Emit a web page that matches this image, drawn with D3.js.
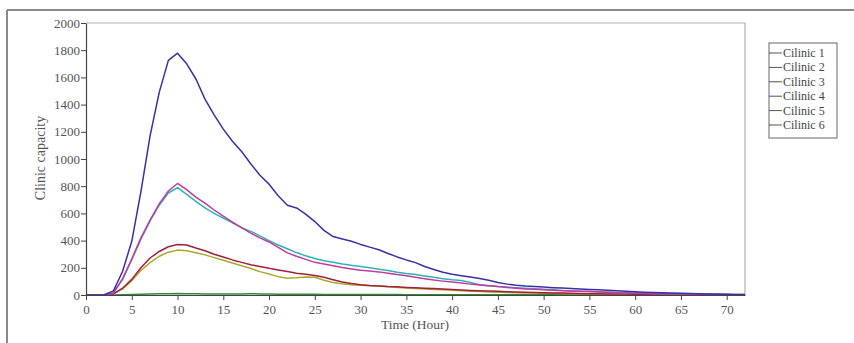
<!DOCTYPE html>
<html>
<head>
<meta charset="utf-8">
<script src="https://cdn.jsdelivr.net/npm/d3@7"></script>
<style>
  body { margin: 0; background: #fff; }
  svg { display: block; }
</style>
</head>
<body>
<div id="chart"></div>
<script>
// hours 0..72
const hours = d3.range(0, 73);

const seriesNames = ["Cilinic 1", "Cilinic 2", "Cilinic 3", "Cilinic 4", "Cilinic 5", "Cilinic 6"];
const seriesColors = ["#3a2fa6", "#c23a9e", "#2fb2b6", "#a3203a", "#aaa82a", "#2e8b34"];

const cilinic1 = [0,0,2,30,175,395,760,1170,1490,1725,1778,1700,1590,1440,1325,1220,1130,1055,965,880,
  815,730,660,640,595,540,475,430,412,395,372,352,333,305,280,258,238,210,188,167,
  152,142,132,122,108,92,80,72,66,62,58,54,51,48,44,41,38,35,31,27,
  24,21,19,17,15,13,11,9,8,7,5,4,3];
const cilinic2 = [0,0,0,15,120,265,420,550,670,765,820,775,720,675,625,580,535,495,455,420,
  390,350,310,285,262,240,228,215,202,192,182,176,170,160,150,142,130,120,110,102,
  95,88,80,74,68,62,56,50,45,42,38,35,32,30,28,26,23,20,17,15,
  13,11,10,9,8,7,6,5,4,4,3,2,2];
const cilinic3 = [0,0,0,15,115,260,410,545,660,750,790,740,688,640,600,565,530,495,468,435,
  400,368,340,312,288,268,252,240,228,218,210,200,190,180,168,158,150,140,130,120,
  112,106,92,76,68,62,58,54,50,46,42,38,34,30,27,25,22,20,18,16,
  14,12,11,10,9,8,7,6,5,4,4,3,3];
const cilinic4 = [0,0,0,8,50,115,200,272,320,355,372,368,345,325,300,280,258,240,222,210,
  196,184,172,160,152,143,130,112,95,84,76,70,66,62,60,56,53,50,47,44,
  40,37,34,31,29,27,24,22,20,18,17,15,14,12,11,10,9,8,8,7,
  6,6,5,5,4,4,3,3,3,2,2,2,1];
const cilinic5 = [0,0,0,8,45,105,180,238,285,315,330,326,310,295,275,255,235,215,195,172,
  155,135,124,126,132,130,108,92,82,76,72,68,66,60,56,52,48,45,40,38,
  35,32,28,25,22,20,18,16,15,14,13,12,11,10,9,8,8,7,6,6,
  5,5,4,4,3,3,3,2,2,2,2,1,1];
const cilinic6 = [0,0,0,0,1,3,5,7,9,10,11,10,9,8,8,7,7,8,9,8,
  7,6,6,5,5,5,4,4,4,4,3,3,3,3,3,2,2,2,2,2,
  2,2,2,1,1,1,1,1,1,1,1,1,1,1,1,1,0,0,0,0,
  0,0,0,0,0,0,0,0,0,0,0,0,0];

const xTicks = d3.range(0, 71, 5);
const yTicks = d3.range(0, 2001, 200);

const allSeries = [cilinic1, cilinic2, cilinic3, cilinic4, cilinic5, cilinic6];

const W = 854, H = 343;
const plot = { left: 86, right: 745, top: 23, bottom: 295 };

const svg = d3.select("#chart").append("svg")
  .attr("width", W)
  .attr("height", H);

// outer frame (top and left edges visible)
svg.append("line").attr("x1", 7).attr("y1", 10).attr("x2", W).attr("y2", 10)
  .attr("stroke", "#8a8a8a").attr("stroke-width", 2);
svg.append("line").attr("x1", 7).attr("y1", 10).attr("x2", 7).attr("y2", H)
  .attr("stroke", "#8a8a8a").attr("stroke-width", 2);

const x = d3.scaleLinear().domain([0, 72]).range([plot.left, plot.right]);
const y = d3.scaleLinear().domain([0, 2000]).range([plot.bottom, plot.top]);

// plot frame top + right
svg.append("path")
  .attr("d", `M${plot.left},${plot.top}H${plot.right}V${plot.bottom}`)
  .attr("fill", "none")
  .attr("stroke", "#b0b0b0")
  .attr("stroke-width", 1.2);

// lines
const line = d3.line()
  .x((d, i) => x(hours[i]))
  .y(d => y(d));

const lines = svg.append("g").attr("class", "lines");
// draw from smallest to largest so the order resembles the reference
[5, 4, 3, 2, 1, 0].forEach(k => {
  lines.append("path")
    .datum(allSeries[k])
    .attr("d", line)
    .attr("fill", "none")
    .attr("stroke", seriesColors[k])
    .attr("stroke-width", 1.5)
    .attr("stroke-linejoin", "round");
});

// axes
const xAxis = svg.append("g")
  .attr("transform", "translate(0," + plot.bottom + ")")
  .call(d3.axisBottom(x).tickValues(xTicks).tickFormat(d3.format("d")).tickSize(5).tickSizeOuter(0));
const yAxis = svg.append("g")
  .attr("transform", "translate(" + plot.left + ",0)")
  .call(d3.axisLeft(y).tickValues(yTicks).tickFormat(d3.format("d")).tickSize(5).tickSizeOuter(0));

[xAxis, yAxis].forEach(a => {
  a.select(".domain").attr("stroke", "#444").attr("stroke-width", 1.2);
  a.selectAll(".tick line").attr("stroke", "#444");
  a.selectAll("text")
    .style("font-family", "'Liberation Serif', serif")
    .style("font-size", "13px")
    .attr("fill", "#555");
});
xAxis.selectAll("text").attr("dy", "0.85em");
yAxis.selectAll("text").attr("x", -6);

// axis titles
svg.append("text")
  .attr("x", 415)
  .attr("y", 329)
  .attr("text-anchor", "middle")
  .style("font-family", "'Liberation Serif', serif")
  .style("font-size", "13.5px")
  .attr("fill", "#555")
  .text("Time (Hour)");

svg.append("text")
  .attr("transform", "translate(45,158) rotate(-90)")
  .attr("text-anchor", "middle")
  .style("font-family", "'Liberation Serif', serif")
  .style("font-size", "14px")
  .attr("fill", "#555")
  .text("Clinic capacity");

// legend
const legend = svg.append("g").attr("transform", "translate(769,43)");
legend.append("rect")
  .attr("width", 68).attr("height", 95)
  .attr("fill", "#fff")
  .attr("stroke", "#666").attr("stroke-width", 1);
seriesNames.forEach((name, i) => {
  const row = legend.append("g").attr("transform", "translate(0," + (10 + i * 14.4) + ")");
  row.append("line").attr("x1", 0).attr("x2", 13).attr("y1", 0).attr("y2", 0)
    .attr("stroke", "#555").attr("stroke-width", 1);
  row.append("text")
    .attr("x", 14).attr("y", 4)
    .style("font-family", "'Liberation Serif', serif")
    .style("font-size", "12px")
    .attr("fill", "#444")
    .text(name);
});
</script>
</body>
</html>
